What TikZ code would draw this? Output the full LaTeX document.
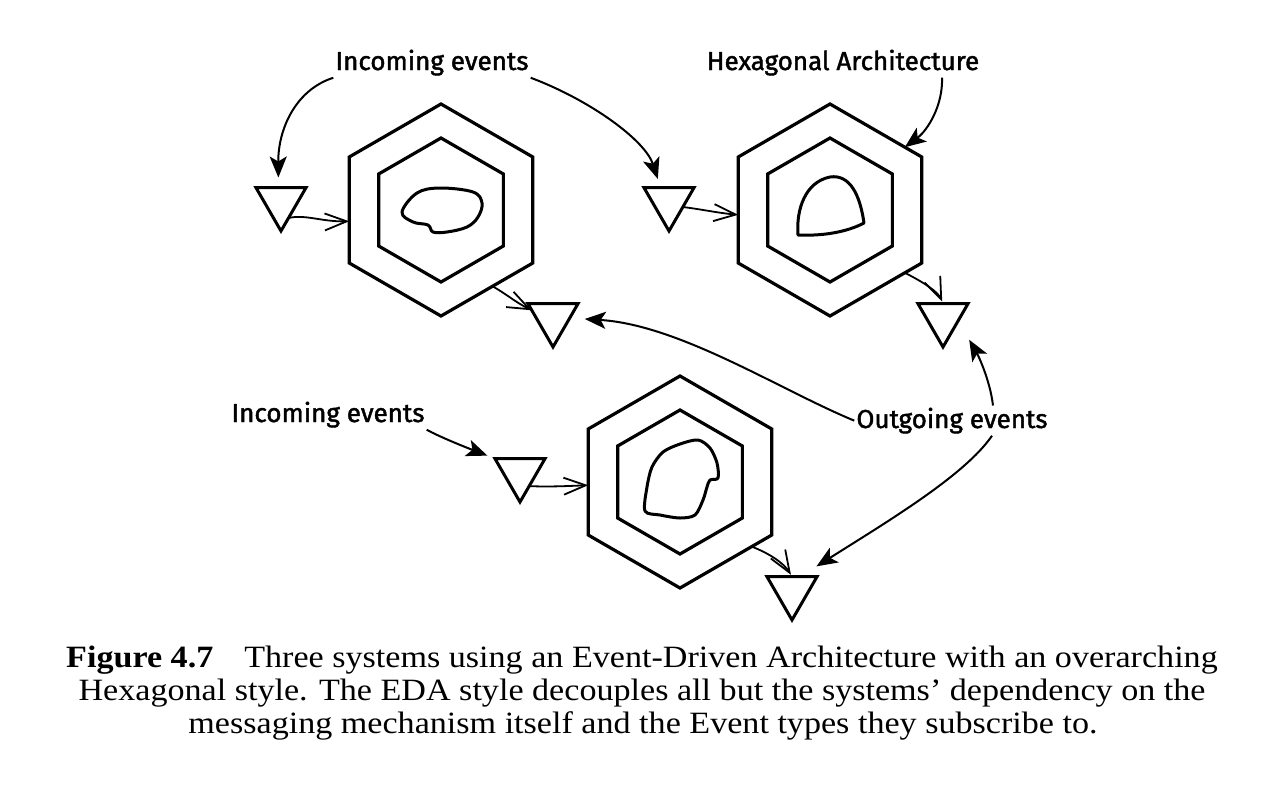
\documentclass[tikz,border=0pt]{standalone}
\usepackage{fontspec}
\setmainfont{Liberation Serif}
\newfontfamily\capfont[FakeStretch=1.1,Ligatures=TeX]{Liberation Serif}
\newfontfamily\handfont[FakeBold=1.6]{Fira Sans}
\usetikzlibrary{shapes.geometric,arrows.meta}
\begin{document}
\begin{tikzpicture}[x=1pt,y=-1pt,
  hexo/.style={draw,line width=3.2pt,regular polygon,regular polygon sides=6,shape border rotate=30,minimum size=212pt,inner sep=0pt,outer sep=0pt},
  hexi/.style={hexo,minimum size=144pt},
  tri/.style={draw,line width=3pt,regular polygon,regular polygon sides=3,shape border rotate=180,minimum size=58pt,inner sep=0pt,outer sep=0pt},
  blob/.style={line width=3pt,line join=round},
  flow/.style={line width=1.8pt,-{Straight Barb[length=22pt,width=17pt,line width=1.8pt]}},
  note/.style={line width=2pt,-{Stealth[length=21pt,width=17pt,inset=5pt]}},
  lbl/.style={font=\handfont\fontsize{26}{30}\selectfont,inner sep=2pt,anchor=base},
  captext/.style={font=\capfont\fontsize{31}{33}\selectfont,inner sep=0pt,anchor=base},
]
\useasboundingbox[fill=white] (0,0) rectangle (1288,788);

% systems
\node[hexo] (h1) at (441,210) {};
\node[hexi] (h1i) at (441,210) {};
\node[hexo] (h2) at (830,210) {};
\node[hexi] (h2i) at (830,210) {};
\node[hexo] (h3) at (680,482) {};
\node[hexi] (h3i) at (680,482) {};

% cores
\draw[blob] plot[smooth cycle,tension=0.6] coordinates {(402,212) (417,193) (440,188) (473,192) (482,203) (478,217) (467,227) (447,232) (433,232) (428,225) (413,222)};
\draw[blob] (798,235) .. controls (796,210) and (805,182) .. (830,177) .. controls (850,174) and (860,195) .. (864,223) .. controls (845,233) and (820,236) .. cycle;
\draw[blob] plot[smooth cycle,tension=0.5] coordinates {(645,511) (647,487) (652,467) (663,452) (680,444) (698,440) (710,448) (717,463) (718,478) (710,480) (707,487) (703,500) (695,515) (680,518) (660,515)};

% ports
\node[tri] (t1) at (281,202) {};
\node[tri] (t2) at (553,318) {};
\node[tri] (t3) at (669,202) {};
\node[tri] (t4) at (943,318) {};
\node[tri] (t5) at (520,473) {};
\node[tri] (t6) at (792,591) {};

% flows
\draw[flow] (t1.-65) .. controls (305,214) and (322,222) .. (h1.187);
\draw[flow] (h1.-56) .. controls (505,293) and (515,302) .. (t2.160);
\draw[flow] (t3.-20) .. controls (700,209) and (718,213) .. (h2.183);
\draw[flow,shorten >=2pt] (h2.-40) .. controls (925,283) and (938,292) .. (t4.90);
\draw[flow] (t5.-55) .. controls (550,487) and (568,486) .. (h3.182);
\draw[flow,shorten >=2pt] (h3.-42) .. controls (768,553) and (783,562) .. (t6.90);

% labels
\node[lbl] (L1) at (432,70) {Incoming events};
\node[lbl] (L2) at (843,70) {Hexagonal Architecture};
\node[lbl] (L3) at (952,428) {Outgoing events};
\node[lbl] (L4) at (328,422) {Incoming events};

% notes
\draw[note,shorten >=10pt] (L1.south west) .. controls (295,90) and (278,130) .. (t1.100);
\draw[note,shorten >=9pt] (L1.south east) .. controls (590,100) and (645,140) .. (t3.120);
\draw[note] ([xshift=99pt]L2.south) .. controls (943,105) and (928,130) .. (h2.40);
\draw[note,shorten >=15pt] (L3.west) .. controls (780,390) and (680,325) .. (t2.0);
\draw[note,shorten >=22pt] ([xshift=41pt]L3.north) .. controls (990,380) and (978,355) .. (t4.-10);
\draw[note,shorten >=19pt] ([xshift=40pt]L3.south) .. controls (965,475) and (890,520) .. (t6.60);
\draw[note,shorten >=8pt] (L4.south east) .. controls (440,437) and (465,447) .. (t5.150);

% caption
\node[captext] (c1) at (642,667) {\textbf{Figure 4.7}\quad Three systems using an Event-Driven Architecture with an overarching};
\node[captext] (c2) at (642,700) {Hexagonal style. The EDA style decouples all but the systems’ dependency on the};
\node[captext] (c3) at (643,733) {messaging mechanism itself and the Event types they subscribe to.};
\end{tikzpicture}
\end{document}
